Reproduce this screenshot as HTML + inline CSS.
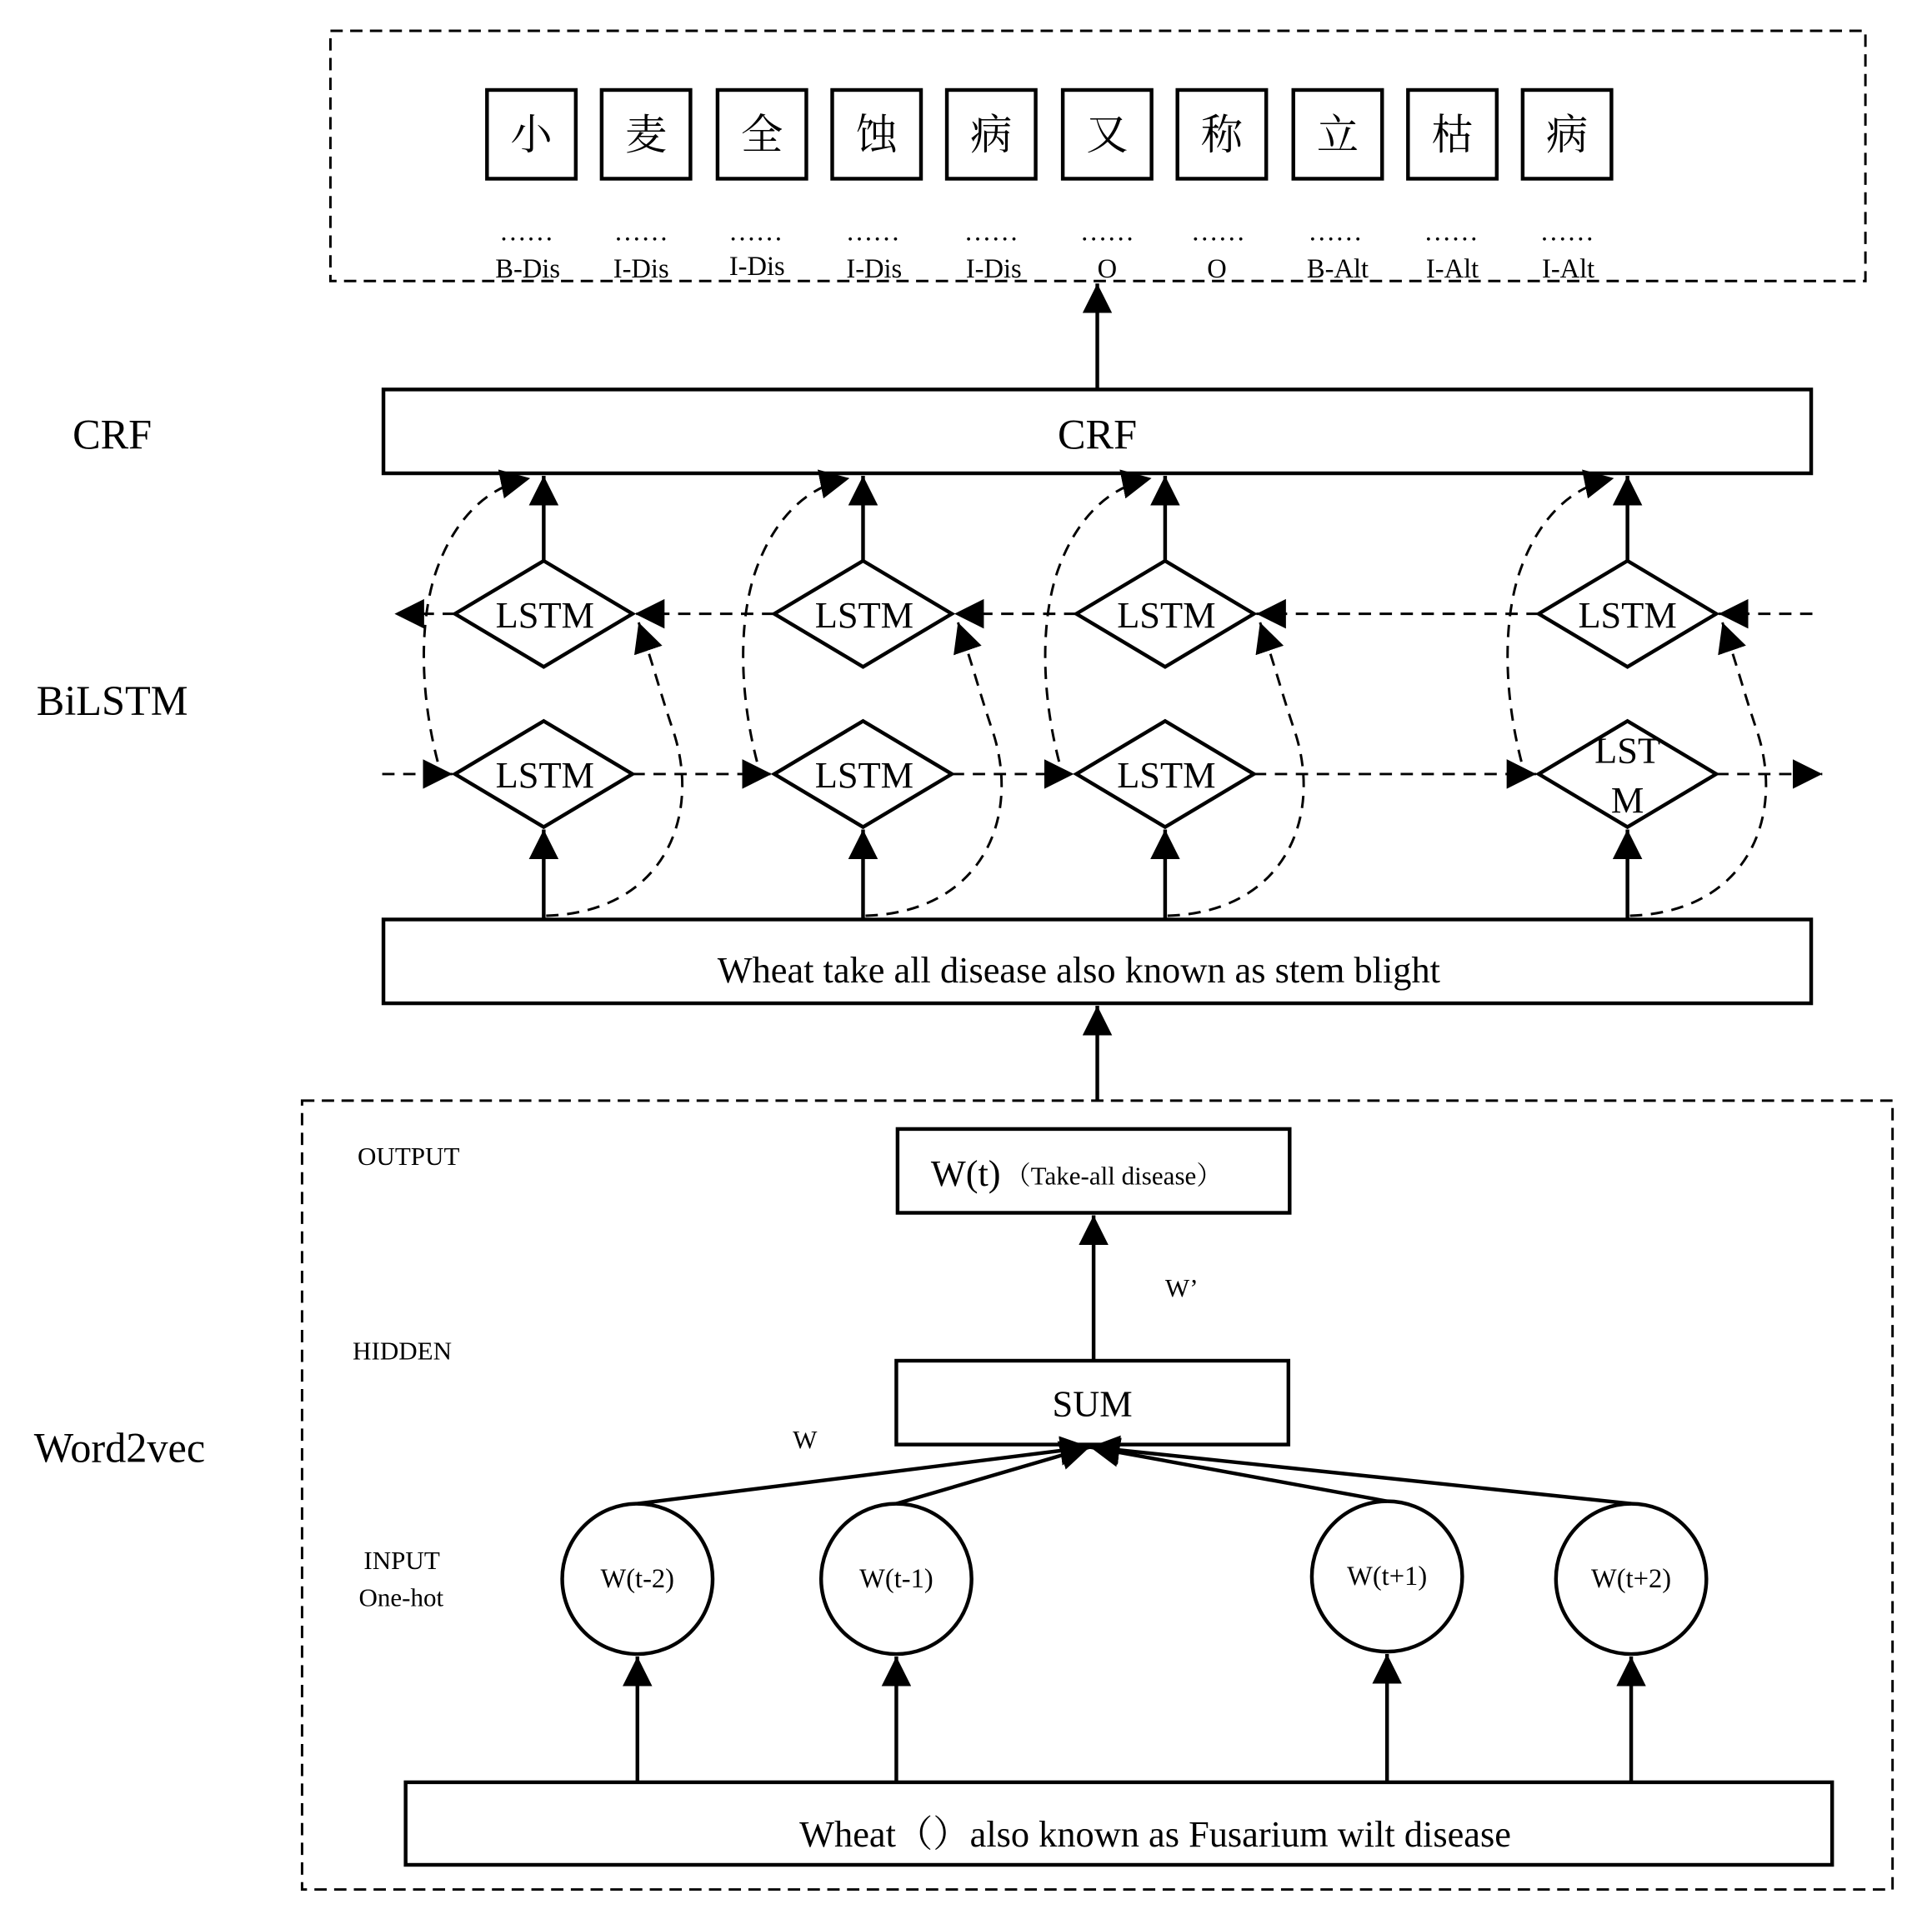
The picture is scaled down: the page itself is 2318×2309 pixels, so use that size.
<!DOCTYPE html>
<html><head><meta charset="utf-8"><style>html,body{margin:0;padding:0;background:#fff}svg{display:block}</style></head>
<body>
<svg width="2318" height="2309" viewBox="0 0 1567 1561" preserveAspectRatio="none" xmlns="http://www.w3.org/2000/svg" font-family="Liberation Serif, 'Noto Serif CJK SC', serif">
<defs>
<marker id="b" viewBox="0 0 10 10" refX="10" refY="5" markerWidth="24" markerHeight="24" markerUnits="userSpaceOnUse" orient="auto"><path d="M0,0L10,5L0,10z"/></marker>
</defs>
<rect width="1567" height="1561" fill="#fff"/>
<g fill="none" stroke="#000" stroke-width="2" stroke-dasharray="10,6">
<rect x="268" y="25" width="1245" height="203"/>
<rect x="245" y="893" width="1290" height="640"/>
</g>
<g fill="none" stroke="#000" stroke-width="3">
<rect x="395" y="73" width="72" height="72"/><rect x="488" y="73" width="72" height="72"/><rect x="582" y="73" width="72" height="72"/><rect x="675" y="73" width="72" height="72"/><rect x="768" y="73" width="72" height="72"/><rect x="862" y="73" width="72" height="72"/><rect x="955" y="73" width="72" height="72"/><rect x="1049" y="73" width="72" height="72"/><rect x="1142" y="73" width="72" height="72"/><rect x="1235" y="73" width="72" height="72"/>
<rect x="311" y="316" width="1158" height="68"/>
<rect x="311" y="746" width="1158" height="68"/>
<rect x="728" y="916" width="318" height="68"/>
<rect x="727" y="1104" width="318" height="68"/>
<rect x="329" y="1446" width="1157" height="67"/>
<circle cx="517" cy="1281" r="61"/><circle cx="727" cy="1281" r="61"/><circle cx="1125" cy="1279" r="61"/><circle cx="1323" cy="1281" r="61"/>
</g>
<g font-size="34" text-anchor="middle" font-family="'Noto Serif CJK SC','Noto Sans CJK SC',serif">
<text x="431" y="121">小</text><text x="524" y="121">麦</text><text x="618" y="121">全</text><text x="711" y="121">蚀</text><text x="804" y="121">病</text><text x="898" y="121">又</text><text x="991" y="121">称</text><text x="1085" y="121">立</text><text x="1178" y="121">枯</text><text x="1271" y="121">病</text>
</g>
<g font-size="22" text-anchor="middle">
<text x="427" y="195">……</text><text x="520" y="195">……</text><text x="613" y="195">……</text><text x="708" y="195">……</text><text x="804" y="195">……</text><text x="898" y="195">……</text><text x="988" y="195">……</text><text x="1083" y="195">……</text><text x="1177" y="195">……</text><text x="1271" y="195">……</text>
<text x="428" y="225">B-Dis</text><text x="520" y="225">I-Dis</text><text x="614" y="223">I-Dis</text><text x="709" y="225">I-Dis</text><text x="806" y="225">I-Dis</text><text x="898" y="225">O</text><text x="987" y="225">O</text><text x="1085" y="225">B-Alt</text><text x="1178" y="225">I-Alt</text><text x="1272" y="225">I-Alt</text>
</g>
<g font-size="34" text-anchor="middle">
<text x="890" y="364">CRF</text><text x="91" y="364">CRF</text><text x="91" y="580">BiLSTM</text><text x="97" y="1186">Word2vec</text>
</g>
<text x="875" y="797" font-size="30" text-anchor="middle">Wheat take all disease also known as stem blight</text>
<text x="937" y="1498" font-size="30" text-anchor="middle">Wheat（）also known as Fusarium wilt disease</text>
<text x="755" y="962" font-size="30">W(t)</text><text x="815" y="961" font-size="21">（Take-all disease）</text>
<text x="886" y="1149" font-size="30" text-anchor="middle">SUM</text>
<g font-size="21">
<text x="290" y="945">OUTPUT</text><text x="286" y="1103">HIDDEN</text><text x="295" y="1273">INPUT</text><text x="291" y="1303">One-hot</text>
<text x="945" y="1052">W’</text><text x="643" y="1175">W</text>
</g>
<g font-size="22" text-anchor="middle">
<text x="517" y="1288">W(t-2)</text><text x="727" y="1288">W(t-1)</text><text x="1125" y="1286">W(t+1)</text><text x="1323" y="1288">W(t+2)</text>
</g>
<g stroke="#000" stroke-width="3" fill="none">
<line x1="890" y1="316" x2="890" y2="230" marker-end="url(#b)"/>
<line x1="890" y1="893" x2="890" y2="816" marker-end="url(#b)"/>
<line x1="887" y1="1104" x2="887" y2="986" marker-end="url(#b)"/>
<line x1="517" y1="1446" x2="517" y2="1344" marker-end="url(#b)"/>
<line x1="727" y1="1446" x2="727" y2="1344" marker-end="url(#b)"/>
<line x1="1125" y1="1446" x2="1125" y2="1342" marker-end="url(#b)"/>
<line x1="1323" y1="1446" x2="1323" y2="1344" marker-end="url(#b)"/>
<line x1="517" y1="1220" x2="884" y2="1174" marker-end="url(#b)"/>
<line x1="727" y1="1220" x2="884" y2="1174" marker-end="url(#b)"/>
<line x1="1125" y1="1218" x2="884" y2="1174" marker-end="url(#b)"/>
<line x1="1323" y1="1220" x2="884" y2="1174" marker-end="url(#b)"/>
</g>
<g id="u" stroke="#000" stroke-width="3" fill="none">
<path d="M369,498L441,455L513,498L441,541Z" fill="#fff"/>
<path d="M369,628L441,585L513,628L441,671Z" fill="#fff"/>
<line x1="441" y1="745" x2="441" y2="673" marker-end="url(#b)"/>
<line x1="441" y1="455" x2="441" y2="386" marker-end="url(#b)"/>
</g>
<use href="#u" x="259"/><use href="#u" x="504"/><use href="#u" x="879"/>
<g font-size="30" text-anchor="middle">
<text x="442" y="509">LSTM</text><text x="701" y="509">LSTM</text><text x="946" y="509">LSTM</text><text x="1320" y="509">LSTM</text>
<text x="442" y="639">LSTM</text><text x="701" y="639">LSTM</text><text x="946" y="639">LSTM</text>
<text x="1320" y="619">LST</text><text x="1320" y="659">M</text>
</g>
<g stroke="#000" stroke-width="2" fill="none" stroke-dasharray="10,7">
<line x1="1470" y1="498" x2="1394" y2="498" marker-end="url(#b)"/>
<line x1="1248" y1="498" x2="1019" y2="498" marker-end="url(#b)"/>
<line x1="873" y1="498" x2="774" y2="498" marker-end="url(#b)"/>
<line x1="628" y1="498" x2="515" y2="498" marker-end="url(#b)"/>
<line x1="369" y1="498" x2="320" y2="498" marker-end="url(#b)"/>
<line x1="310" y1="628" x2="367" y2="628" marker-end="url(#b)"/>
<line x1="513" y1="628" x2="626" y2="628" marker-end="url(#b)"/>
<line x1="772" y1="628" x2="871" y2="628" marker-end="url(#b)"/>
<line x1="1017" y1="628" x2="1246" y2="628" marker-end="url(#b)"/>
<line x1="1392" y1="628" x2="1478" y2="628" marker-end="url(#b)"/>
</g>
<g id="c" stroke="#000" stroke-width="2" fill="none" stroke-dasharray="10,7">
<path d="M443,743 C540,740 570,660 545,590 C535,560 530,540 518,505" marker-end="url(#b)"/>
<path d="M355,618 C340,560 340,500 355,460 C370,420 395,395 430,388" marker-end="url(#b)"/>
</g>
<use href="#c" x="259"/><use href="#c" x="504"/><use href="#c" x="879"/>
</svg>
</body></html>
